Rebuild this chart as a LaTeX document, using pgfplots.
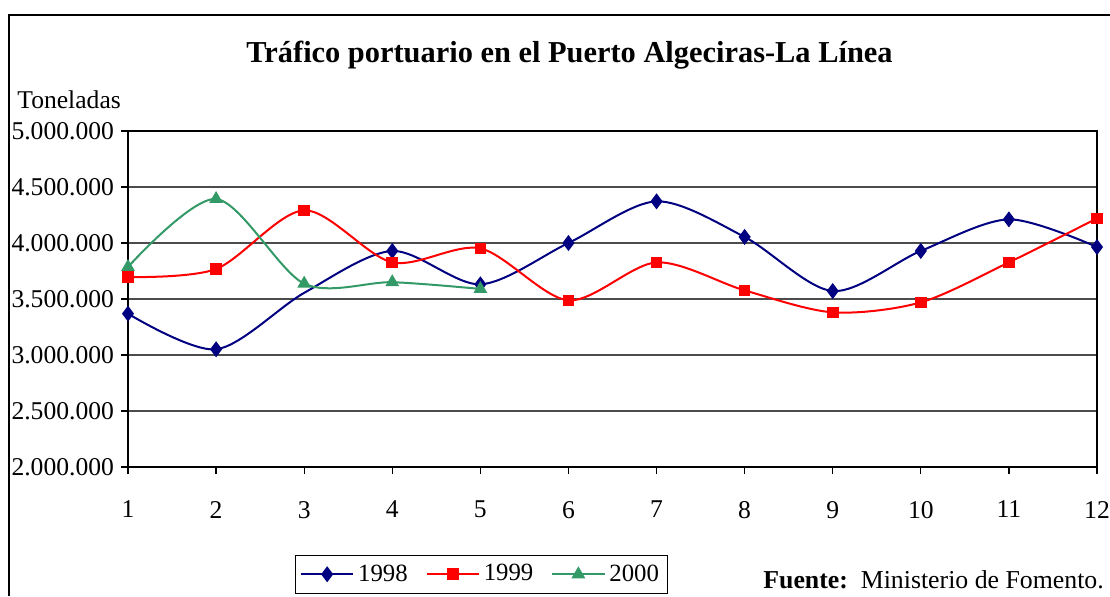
\documentclass[border=0pt]{standalone}
\usepackage{pgfplots}
\pgfplotsset{compat=1.18}
\usepackage{fontspec}
\setmainfont{Liberation Serif}
\definecolor{c98}{RGB}{0,0,128}
\definecolor{c99}{RGB}{255,0,0}
\definecolor{c00}{RGB}{51,153,102}
\begin{document}
\begin{tikzpicture}
\path[use as bounding box] (0,0) rectangle (555pt,-298pt);
\draw[line width=0.6pt] (4.5pt,-298pt) -- (4.5pt,-7.5pt) -- (555pt,-7.5pt);
\node[font=\fontsize{15.2}{17}\selectfont\bfseries] at (284.75pt,-27.5pt) {Tráfico portuario en el Puerto Algeciras-La Línea};
\node[font=\fontsize{12.8}{15}\selectfont, anchor=west, inner sep=0pt] at (8.5pt,-50pt) {Toneladas};
\node[font=\fontsize{12.9}{15}\selectfont, anchor=west, inner sep=0pt] at (381.5pt,-290pt) {\textbf{Fuente:}\ \ Ministerio de Fomento.};
\begin{axis}[
  at={(64pt,-233.5pt)}, anchor=south west,
  scale only axis, width=484.5pt, height=168pt,
  xmin=1, xmax=12, ymin=2000000, ymax=5000000,
  xtick={1,...,12},
  ytick={2000000,2500000,3000000,3500000,4000000,4500000,5000000},
  scaled y ticks=false,
  /pgf/number format/assume math mode=true,
  yticklabel style={/pgf/number format/fixed,/pgf/number format/1000 sep={.},font=\fontsize{12.8}{15}\selectfont},
  xticklabel style={font=\fontsize{12.8}{15}\selectfont, yshift=-10pt},
  tick align=outside, major tick length=3.5pt,
  xtick pos=bottom, ytick pos=left,
  ymajorgrids, grid style={gray!60!black, line width=0.6pt},
  axis line style={line width=0.6pt},
  tick style={black, line width=0.6pt},
  legend columns=3,
  legend style={at={(0.172,-0.262)}, anchor=north west, draw=black, line width=0.5pt,
    font=\fontsize{12.4}{14}\selectfont,
    /tikz/every even column/.append style={column sep=7pt},
    inner sep=2.5pt},
  legend image code/.code={\draw[mark indices={2}] plot coordinates {(0pt,0pt) (13pt,0pt) (26pt,0pt)};},
]
\addplot[c98, line width=1pt, smooth, tension=0.5, mark=diamond*, mark size=3.2pt, mark options={solid,fill=c98}, mark indices={1,2,4,5,6,7,8,9,10,11,12}] coordinates {
(1,3369000) (2,3051000) (3,3555000) (4,3929000) (5,3631000) (6,4000000)
(7,4372000) (8,4054000) (9,3571000) (10,3929000) (11,4211000) (12,3964000)};
\addlegendentry{1998}
\addplot[c99, line width=1pt, smooth, tension=0.5, mark=square*, mark size=2.4pt, mark options={solid,fill=c99}] coordinates {
(1,3696000) (2,3768000) (3,4292000) (4,3827000) (5,3952000) (6,3488000)
(7,3827000) (8,3577000) (9,3381000) (10,3470000) (11,3827000) (12,4220000)};
\addlegendentry{1999}
\addplot[c00, line width=1pt, smooth, tension=0.5, mark=triangle*, mark size=3pt, mark options={solid,fill=c00}] coordinates {
(1,3786000) (2,4393000) (3,3637000) (4,3650000) (5,3590000)};
\addlegendentry{2000}
\end{axis}
\end{tikzpicture}
\end{document}
